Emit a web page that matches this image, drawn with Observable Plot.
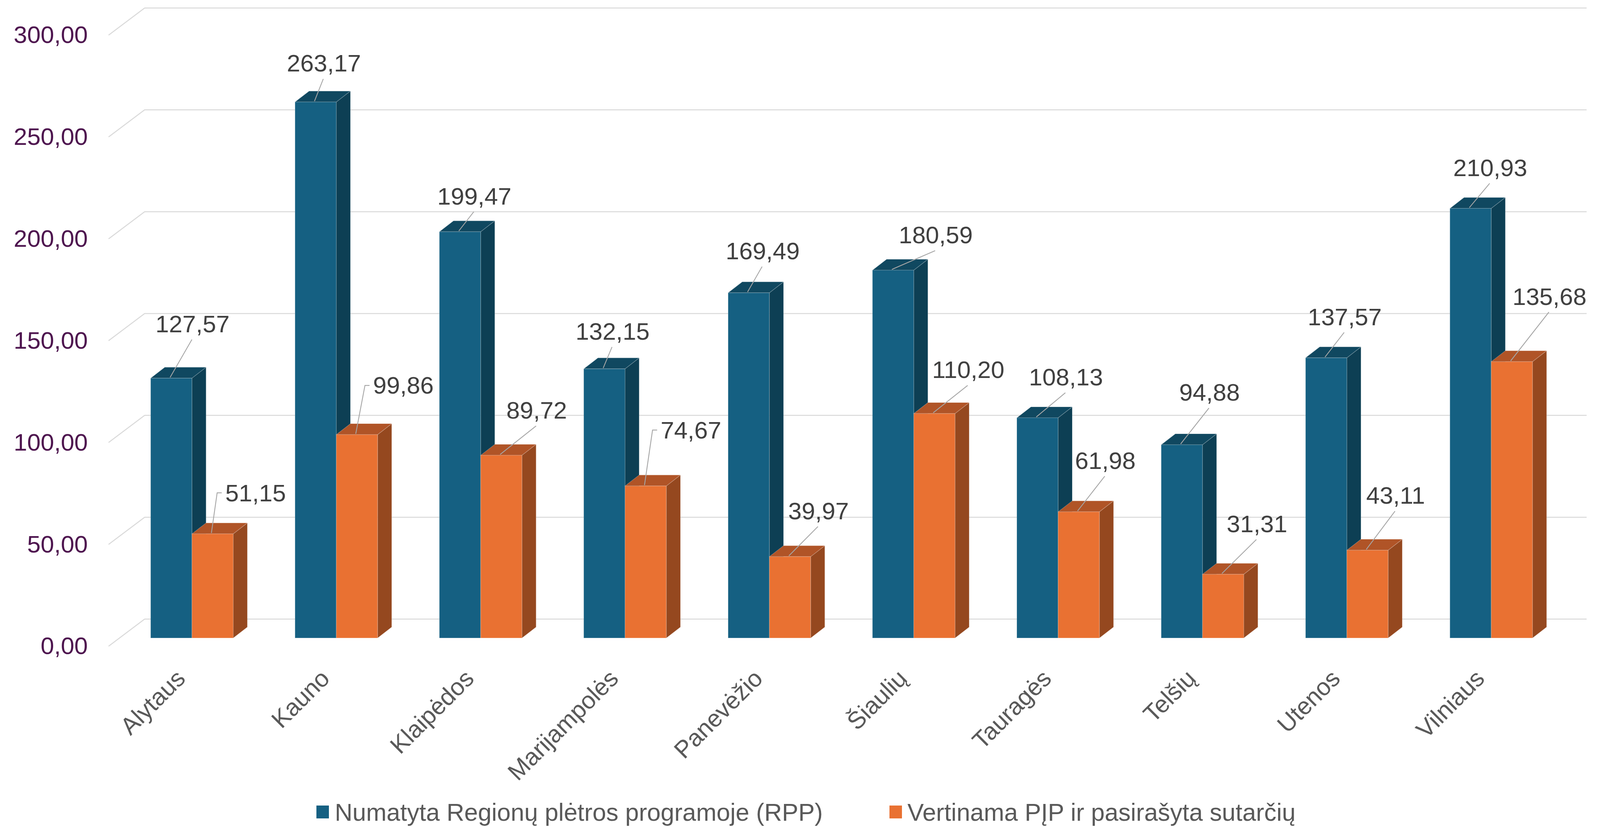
<!DOCTYPE html>
<html lang="lt">
<head>
<meta charset="utf-8">
<script src="https://cdn.jsdelivr.net/npm/d3@7"></script>
<script src="https://cdn.jsdelivr.net/npm/@observablehq/plot@0.6"></script>
<style>
html,body{margin:0;padding:0;background:#fff;height:2118px;overflow:hidden}
svg{display:block}
#legend{position:relative;height:78px;font:62.8px "Liberation Sans",Arial,sans-serif;color:#595959}
#legend span{position:absolute;white-space:nowrap;top:0;line-height:80px}
#legend i{position:absolute;top:23px;width:32px;height:33px}
</style>
</head>
<body>
<div id="chart"></div>
<div id="legend">
  <i style="left:810px;background:#156082"></i><span style="left:857px">Numatyta Regionų plėtros programoje (RPP)</span>
  <i style="left:2277px;background:#E97132"></i><span style="left:2323px">Vertinama PĮP ir pasirašyta sutarčių</span>
</div>
<script>
const regions = ["Alytaus","Kauno","Klaipėdos","Marijampolės","Panevėžio","Šiaulių","Tauragės","Telšių","Utenos","Vilniaus"];
const planned = [127.57,263.17,199.47,132.15,169.49,180.59,108.13,94.88,137.57,210.93];
const signed  = [51.15,99.86,89.72,74.67,39.97,110.20,61.98,31.31,43.11,135.68];
const yTicks  = [0,50,100,150,200,250,300];

// label placement, relative to the centre of each bar's top edge
const plannedLabelDx = [55,21,37,21,36,111,74,72,48,51];
const plannedLabelDy = [-138,-98,-90,-95,-106,-89,-103,-133,-104,-103];
const signedLabelDx  = [112,121,92,118,74,88,69,88,73,98];
const signedLabelDy  = [-104,-125,-114,-142,-116,-111,-130,-128,-139,-166];
const signedElbow    = [true,true,false,true,false,false,false,false,false,false];

const font = '"Liberation Sans",Arial,sans-serif';
const W = 4096, H = 2040;
const k = W / 4185; // the window is 4096 wide; the layout was read at 4185
const barW = 108*k, insetOuter = 80.8*k, insetInner = 188.8*k, depthX = 37*k, depthY = 28;
const edge = {stroke:"#ffffff","stroke-opacity":0.22,"stroke-width":1.5};
const comma = v => v.toFixed(2).replace(".", ",");

const rows = (vals, lx, ly, elbows, start) => regions.map((r,i)=>({
  region:r, value:vals[i], lx:lx[i]*k, ly:ly[i], elbow:elbows?elbows[i]:false, start
}));
const blue = rows(planned, plannedLabelDx, plannedLabelDy, null, insetOuter);
const orange = rows(signed, signedLabelDx, signedLabelDy, signedElbow, insetInner);

function polys(build, attrs){
  return (index, {x,y}) => {
    const g = d3.create("svg:g");
    build(x,y).forEach(p=>{
      const e = g.append(p.tag||"polygon");
      e.attr("points",p.points.map(q=>q.join(",")).join(" "));
      Object.entries(attrs).forEach(([a,v])=>e.attr(a,v));
    });
    return g.node();
  };
}
const sideFace = (data,fill) => polys((x,y)=>data.map(d=>{
  const x1=x(d.region)+d.start+barW, t=y(d.value), b=y(0);
  return {points:[[x1,t],[x1+depthX,t-depthY],[x1+depthX,b-depthY],[x1,b]]};
}),{fill,...edge});
const topFace = (data,fill) => polys((x,y)=>data.map(d=>{
  const x0=x(d.region)+d.start, x1=x0+barW, t=y(d.value);
  return {points:[[x0,t],[x1,t],[x1+depthX,t-depthY],[x0+depthX,t-depthY]]};
}),{fill,...edge});
const leaders = data => polys((x,y)=>data.map(d=>{
  const cx=x(d.region)+d.start+barW/2, t=y(d.value);
  const lx=cx+d.lx, ly=t+d.ly;
  const pts = d.elbow
    ? [[lx-88*k,ly-1],[lx-100*k,ly-1],[cx-3,t-2]]
    : [[lx-1,ly+39],[cx-3,t-2]];
  return {tag:"polyline",points:pts};
}),{fill:"none",stroke:"#a6a6a6","stroke-width":2.2});
const axisDiagonals = polys((x,y)=>yTicks.map(v=>({
  tag:"polyline",points:[[284*k,y(v)+21],[379*k,y(v)-49]]
})),{fill:"none",stroke:"#d9d9d9","stroke-width":2.5});

const valueLabels = data => data.map(d=>Plot.text([d],{
  x:"region", y:"value", text:d=>comma(d.value),
  dx:d.start+barW/2-188.8*k+d.lx, dy:d.ly,
  fontSize:62, fill:"#404040", textAnchor:"middle", lineAnchor:"middle"
}));
const front = {stroke:"#ffffff",strokeOpacity:0.22,strokeWidth:1.5};

const plot = Plot.plot({
  width:W, height:H,
  marginLeft:379*k, marginRight:35*k, marginTop:20, marginBottom:H-1634,
  style:{fontFamily:font, background:"#fff", overflow:"visible"},
  x:{type:"band",domain:regions,range:[313.2*k,4089.2*k],padding:0,round:false,label:null},
  y:{domain:[0,300],range:[1634,69],label:null},
  marks:[
    Plot.ruleY(yTicks,{y:d=>d,dy:-49,stroke:"#d9d9d9",strokeWidth:2.5}),
    axisDiagonals,
    Plot.axisY(yTicks,{anchor:"left",tickSize:0,tickPadding:150*k,dy:21,fontSize:62,fill:"#4e154f",label:null,tickFormat:comma}),
    Plot.axisX({anchor:"bottom",tickSize:0,tickPadding:60,tickRotate:-45,dx:-28,dy:33,fontSize:62,fill:"#595959",label:null}),
    sideFace(blue,"#0d3f54"),
    topFace(blue,"#104860"),
    Plot.barY(blue,{x:"region",y:"value",fill:"#156082",insetLeft:insetOuter,insetRight:insetInner,...front}),
    sideFace(orange,"#95481f"),
    topFace(orange,"#b05427"),
    Plot.barY(orange,{x:"region",y:"value",fill:"#E97132",insetLeft:insetInner,insetRight:insetOuter,...front}),
    leaders(blue),
    leaders(orange),
    ...valueLabels(blue),
    ...valueLabels(orange)
  ]
});
document.getElementById("chart").append(plot);
</script>
</body>
</html>
